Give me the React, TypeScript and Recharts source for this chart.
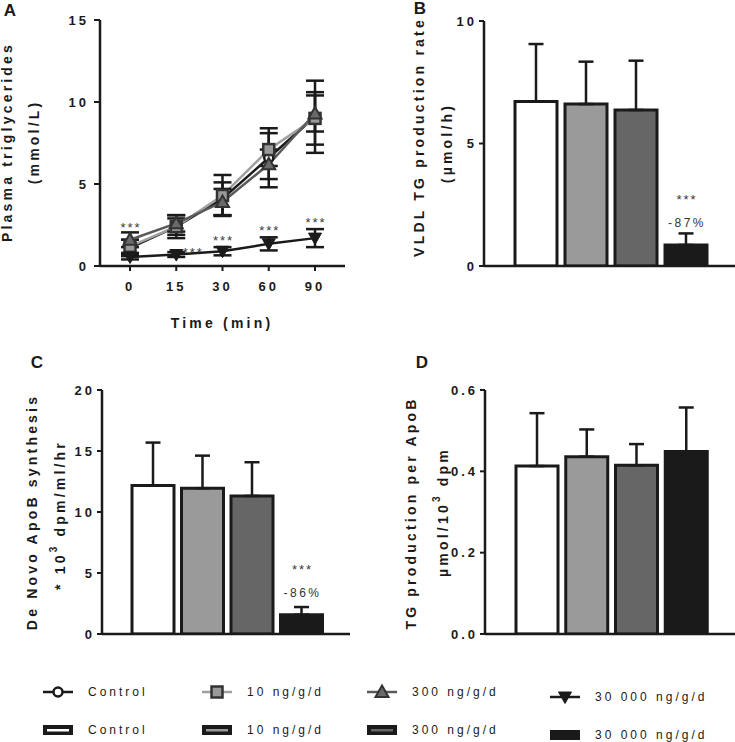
import React from 'react';
import { LineChart, Line, BarChart, Bar, XAxis, YAxis, ErrorBar, Cell, LabelList } from 'recharts';

// ---------- data ----------
const timePoints = ['0', '15', '30', '60', '90'];
const groups = ['Control', '10 ng/g/d', '300 ng/g/d', '30 000 ng/g/d'];

const tgControl = [1.1, 2.4, 4.1, 6.6, 9.1];
const tgControlSd = [0.5, 0.7, 1.0, 1.8, 2.2];
const tg10 = [1.2, 2.4, 4.3, 7.1, 9.0];
const tg10Sd = [0.4, 0.5, 1.25, 1.0, 1.6];
const tg300 = [1.6, 2.6, 3.9, 6.2, 9.3];
const tg300Sd = [0.45, 0.5, 0.8, 0.9, 1.1];
const tg30000 = [0.55, 0.7, 0.9, 1.35, 1.7];
const tg30000Sd = [0.15, 0.15, 0.25, 0.4, 0.55];
const tgSig = ['***', '***', '***', '***', '***'];

const vldlRate = [6.71, 6.61, 6.37, 0.86];
const vldlRateSd = [2.35, 1.73, 2.01, 0.47];
const vldlSig = ['', '', '', '***'];
const vldlChange = ['', '', '', '-87%'];

const apoBSynth = [12.17, 11.95, 11.32, 1.58];
const apoBSynthSd = [3.52, 2.67, 2.76, 0.63];
const apoBSig = ['', '', '', '***'];
const apoBChange = ['', '', '', '-86%'];

const tgPerApoB = [0.413, 0.436, 0.415, 0.449];
const tgPerApoBSd = [0.13, 0.067, 0.052, 0.108];

const aTicks = [0, 5, 10, 15];
const bTicks = [0, 5, 10];
const cTicks = [0, 5, 10, 15, 20];
const dTicks = [0, 0.2, 0.4, 0.6];

// ---------- styles ----------
const FONT = '"Liberation Sans", Arial, Helvetica, sans-serif';
const INK = '#1a1a1a';
const barFills = ['#ffffff', '#9a9a9a', '#666666', '#1a1a1a'];
const lineColors = ['#1a1a1a', '#a0a0a0', '#5a5a5a', '#1a1a1a'];
const markerShapes = ['circle', 'square', 'triangle', 'triDown'];

const aData = timePoints.map((t, i) => ({
  time: t,
  ctrl: tgControl[i], ctrlSd: tgControlSd[i],
  g10: tg10[i], g10Sd: tg10Sd[i],
  g300: tg300[i], g300Sd: tg300Sd[i],
  g30000: tg30000[i], g30000Sd: tg30000Sd[i],
  sig: tgSig[i],
}));

const mkBar = (vals: number[], sds: number[], sig?: string[], chg?: string[]) =>
  groups.map((g, i) => ({
    group: g,
    v: vals[i],
    err: [0, sds[i]],
    sig: sig ? sig[i] : '',
    chg: chg ? chg[i] : '',
  }));

const bData = mkBar(vldlRate, vldlRateSd, vldlSig, vldlChange);
const cData = mkBar(apoBSynth, apoBSynthSd, apoBSig, apoBChange);
const dData = mkBar(tgPerApoB, tgPerApoBSd);

const tickStyle = { fill: INK, fontSize: 13, fontWeight: 'bold', fontFamily: FONT, letterSpacing: 3 };
const axisLine = { stroke: INK, strokeWidth: 2.5 };
const tickLine = { stroke: INK, strokeWidth: 2 };

const Marker = ({ shape, cx, cy }: { shape: string; cx: number; cy: number }) => {
  if (cx == null || cy == null) return null;
  switch (shape) {
    case 'circle':
      return <circle cx={cx} cy={cy} r={4.5} fill="#fff" stroke={INK} strokeWidth={2.5} />;
    case 'square':
      return <rect x={cx - 5.5} y={cy - 5.5} width={11} height={11} fill="#9a9a9a" stroke="#333" strokeWidth={2.5} />;
    case 'triangle':
      return (
        <path d={`M${cx},${cy - 6.5} L${cx + 6.5},${cy + 5} L${cx - 6.5},${cy + 5} Z`} fill="#6a6a6a" stroke="#333" strokeWidth={2} />
      );
    default:
      return <path d={`M${cx - 6.5},${cy - 5} L${cx + 6.5},${cy - 5} L${cx},${cy + 6.5} Z`} fill={INK} stroke={INK} strokeWidth={1} />;
  }
};

const dotFor = (shape: string) => (p: any) => <Marker key={`${shape}-${p.index}`} shape={shape} cx={p.cx} cy={p.cy} />;

// A panel geometry (used only to offset annotations from error-bar tops)
const A_TOP = 20;
const A_BOTTOM = 266;
const A_PX = (A_BOTTOM - A_TOP) / 15;

const starProps = { fontSize: 13, fill: '#3a3a3a', fontFamily: FONT, letterSpacing: 2 };

const renderStarA = (p: any) => {
  const i = p.index;
  const px = p.x;
  const py = p.y;
  if (px == null || py == null || !p.value) return null;
  let x = px;
  let cy: number;
  if (i === 0) {
    const tops = [
      tgControl[0] + tgControlSd[0],
      tg10[0] + tg10Sd[0],
      tg300[0] + tg300Sd[0],
    ];
    const top = Math.max(...tops);
    cy = py - (top - tg30000[0]) * A_PX - 7;
  } else if (i === 1) {
    x = px + 16;
    cy = py - 5;
  } else {
    cy = py - tg30000Sd[i] * A_PX - 9;
  }
  return (
    <text key={`s-${i}`} x={x + 1} y={cy + 7} textAnchor="middle" {...starProps}>
      {p.value}
    </text>
  );
};

const renderSigBar = (p: any) => {
  if (!p.value) return null;
  const x = p.x + p.width / 2 + 1;
  return (
    <text key={`sig-${p.index}`} x={x} y={p.y - 41} textAnchor="middle" {...starProps}>
      {p.value}
    </text>
  );
};
const renderChgBar = (p: any) => {
  if (!p.value) return null;
  const x = p.x + p.width / 2 + 1;
  return (
    <text key={`chg-${p.index}`} x={x} y={p.y - 18} textAnchor="middle" fontSize={12} fill="#333" fontFamily={FONT} letterSpacing={2.5}>
      {p.value}
    </text>
  );
};

const BarPanel = ({
  data, left, top, width, height, yWidth, marginTop, xHeight, padL, padR, domain, ticks, fmt, labels,
}: any) => (
  <div style={{ position: 'absolute', left, top, width, height }}>
    <BarChart width={width} height={height} data={data} margin={{ top: marginTop, right: 0, bottom: 0, left: 0 }}>
      <XAxis dataKey="group" tick={false} tickLine={false} axisLine={axisLine} height={xHeight} padding={{ left: padL, right: padR }} />
      <YAxis
        width={yWidth}
        domain={domain}
        ticks={ticks}
        interval={0}
        tick={tickStyle}
        tickLine={tickLine}
        tickSize={5}
        tickMargin={2}
        axisLine={axisLine}
        tickFormatter={fmt}
        allowDataOverflow
      />
      <Bar dataKey="v" barSize={42} stroke={INK} strokeWidth={3} isAnimationActive={false}>
        {data.map((_: any, i: number) => (
          <Cell key={i} fill={barFills[i]} />
        ))}
        <ErrorBar dataKey="err" direction="y" width={7.5} stroke={INK} strokeWidth={2.5} />
        {labels ? <LabelList dataKey="sig" content={renderSigBar} /> : null}
        {labels ? <LabelList dataKey="chg" content={renderChgBar} /> : null}
      </Bar>
    </BarChart>
  </div>
);

const titleStyle = { fontFamily: FONT, fontWeight: 'bold' as const, fontSize: 14, fill: INK, letterSpacing: 3.2 };

const VText = ({ x, y, children }: any) => (
  <text x={x} y={y} transform={`rotate(-90, ${x}, ${y})`} textAnchor="middle" dominantBaseline="central" {...titleStyle}>
    {children}
  </text>
);

const legendX = [43, 202, 367, 550];
const legendTextX = [88, 247, 412, 595];
const legendRow1Y = [692, 692, 692, 697];
const legendRow2Y = [730, 730, 730, 735];

export default function App() {
  return (
    <div style={{ position: 'absolute', left: 0, top: 0, width: 735, height: 742, background: '#fff', overflow: 'hidden' }}>
      {/* Panel A */}
      <div style={{ position: 'absolute', left: 0, top: 0, width: 345, height: 300 }}>
        <LineChart width={345} height={300} data={aData} margin={{ top: 20, right: 0, bottom: 0, left: 0 }}>
          <XAxis
            dataKey="time"
            padding={{ left: 30, right: 30 }}
            height={34}
            tick={tickStyle}
            tickLine={tickLine}
            tickSize={5}
            tickMargin={11}
            axisLine={axisLine}
            interval={0}
          />
          <YAxis width={100} domain={[0, 15]} ticks={aTicks} interval={0} tick={tickStyle} tickLine={tickLine} tickSize={6} tickMargin={5} axisLine={axisLine} />
          <Line dataKey="ctrl" stroke={lineColors[0]} strokeWidth={2.5} dot={dotFor(markerShapes[0])} isAnimationActive={false}>
            <ErrorBar dataKey="ctrlSd" direction="y" width={9} stroke={INK} strokeWidth={2.5} />
          </Line>
          <Line dataKey="g10" stroke={lineColors[1]} strokeWidth={2.5} dot={dotFor(markerShapes[1])} isAnimationActive={false}>
            <ErrorBar dataKey="g10Sd" direction="y" width={9} stroke={INK} strokeWidth={2.5} />
          </Line>
          <Line dataKey="g300" stroke={lineColors[2]} strokeWidth={2.5} dot={dotFor(markerShapes[2])} isAnimationActive={false}>
            <ErrorBar dataKey="g300Sd" direction="y" width={9} stroke={INK} strokeWidth={2.5} />
          </Line>
          <Line dataKey="g30000" stroke={lineColors[3]} strokeWidth={2.5} dot={dotFor(markerShapes[3])} isAnimationActive={false}>
            <ErrorBar dataKey="g30000Sd" direction="y" width={9} stroke={INK} strokeWidth={2.5} />
            <LabelList dataKey="sig" content={renderStarA} />
          </Line>
        </LineChart>
      </div>

      {/* Panel B */}
      <BarPanel data={bData} left={370} top={0} width={365} height={300} yWidth={114} marginTop={21} xHeight={34} padL={27} padR={24} domain={[0, 10]} ticks={bTicks} labels />
      {/* Panel C */}
      <BarPanel data={cData} left={0} top={360} width={350} height={290} yWidth={102} marginTop={30} xHeight={16} padL={26} padR={24} domain={[0, 20]} ticks={cTicks} labels />
      {/* Panel D */}
      <BarPanel data={dData} left={370} top={360} width={365} height={290} yWidth={115} marginTop={30} xHeight={16} padL={27} padR={24} domain={[0, 0.6]} ticks={dTicks} fmt={(v: number) => v.toFixed(1)} />

      {/* Titles, panel letters, legend */}
      <svg width={735} height={742} style={{ position: 'absolute', left: 0, top: 0, pointerEvents: 'none' }}>
        <g fontFamily={FONT} fontWeight="bold" fontSize={17} fill={INK}>
          <text x={10} y={16} textAnchor="middle">A</text>
          <text x={420} y={14} textAnchor="middle">B</text>
          <text x={37} y={368} textAnchor="middle">C</text>
          <text x={422} y={368} textAnchor="middle">D</text>
        </g>

        <VText x={7} y={142}>Plasma triglycerides</VText>
        <VText x={34} y={142}>(mmol/L)</VText>
        <text x={222} y={323} textAnchor="middle" dominantBaseline="central" {...titleStyle}>Time (min)</text>

        <VText x={419} y={137}>VLDL TG production rate</VText>
        <VText x={447} y={143}>(µmol/h)</VText>

        <VText x={32} y={512}>De Novo ApoB synthesis</VText>
        <VText x={60} y={515}>
          {'* 10'}
          <tspan dy={-7} fontSize={10}>3</tspan>
          <tspan dy={7}>{' dpm/ml/hr'}</tspan>
        </VText>

        <VText x={411} y={513}>TG production per ApoB</VText>
        <VText x={443} y={512}>
          {'µmol/10'}
          <tspan dy={-7} fontSize={10}>3</tspan>
          <tspan dy={7}>{' dpm'}</tspan>
        </VText>

        {/* legend */}
        {groups.map((g, i) => (
          <g key={`l1-${i}`}>
            <line x1={legendX[i]} x2={legendX[i] + 30} y1={legendRow1Y[i]} y2={legendRow1Y[i]} stroke={lineColors[i]} strokeWidth={2.5} />
            <Marker shape={markerShapes[i]} cx={legendX[i] + 15} cy={legendRow1Y[i]} />
            <text x={legendTextX[i]} y={legendRow1Y[i]} dominantBaseline="central" fontFamily={FONT} fontSize={12} fill={INK} letterSpacing={3}>
              {g}
            </text>
          </g>
        ))}
        {groups.map((g, i) => (
          <g key={`l2-${i}`}>
            <rect x={legendX[i]} y={legendRow2Y[i] - 5} width={30} height={10} fill={INK} />
            {i < 3 ? <rect x={legendX[i] + 4} y={legendRow2Y[i] - 1} width={22} height={2.5} fill={barFills[i]} /> : null}
            <text x={legendTextX[i]} y={legendRow2Y[i]} dominantBaseline="central" fontFamily={FONT} fontSize={12} fill={INK} letterSpacing={3}>
              {g}
            </text>
          </g>
        ))}
      </svg>
    </div>
  );
}
